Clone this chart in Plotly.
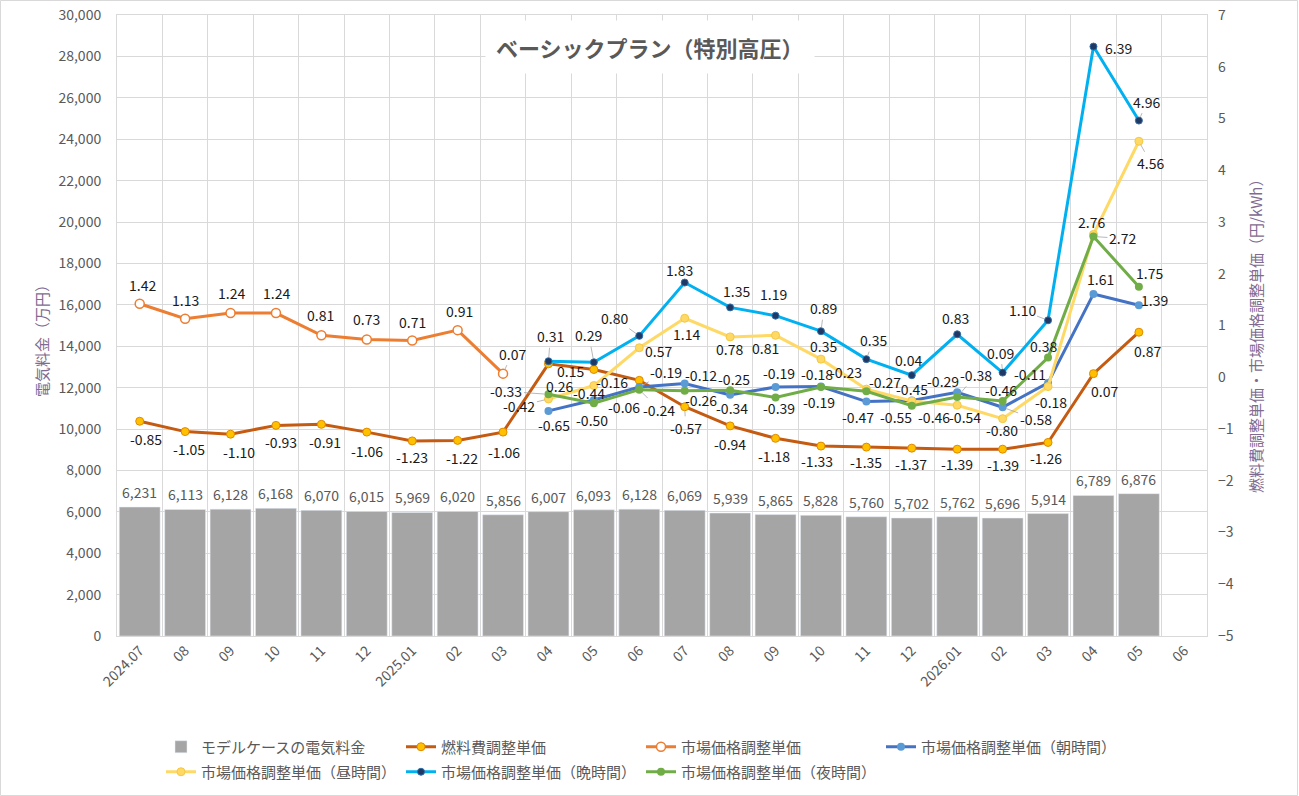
import plotly.graph_objects as go

# ---------------- data ----------------
months = ["2024.07", "08", "09", "10", "11", "12", "2025.01", "02", "03", "04", "05", "06",
          "07", "08", "09", "10", "11", "12", "2026.01", "02", "03", "04", "05", "06"]
bill = [6231, 6113, 6128, 6168, 6070, 6015, 5969, 6020, 5856, 6007, 6093, 6128,
        6069, 5939, 5865, 5828, 5760, 5702, 5762, 5696, 5914, 6789, 6876]
fuel = [-0.85, -1.05, -1.10, -0.93, -0.91, -1.06, -1.23, -1.22, -1.06, 0.26, 0.15, -0.06,
        -0.57, -0.94, -1.18, -1.33, -1.35, -1.37, -1.39, -1.39, -1.26, 0.07, 0.87]
market = [1.42, 1.13, 1.24, 1.24, 0.81, 0.73, 0.71, 0.91, 0.07]
tou_start = 9
morning = [-0.65, -0.44, -0.19, -0.12, -0.34, -0.19, -0.18, -0.47, -0.45, -0.29, -0.58, -0.11, 1.61, 1.39]
day = [-0.42, -0.16, 0.57, 1.14, 0.78, 0.81, 0.35, -0.23, -0.46, -0.54, -0.80, -0.18, 2.76, 4.56]
evening = [0.31, 0.29, 0.80, 1.83, 1.35, 1.19, 0.89, 0.35, 0.04, 0.83, 0.09, 1.10, 6.39, 4.96]
night = [-0.33, -0.50, -0.24, -0.26, -0.25, -0.39, -0.19, -0.27, -0.55, -0.38, -0.46, 0.38, 2.72, 1.75]

names = ["モデルケースの電気料金", "燃料費調整単価", "市場価格調整単価", "市場価格調整単価（朝時間）",
         "市場価格調整単価（昼時間）", "市場価格調整単価（晩時間）", "市場価格調整単価（夜時間）"]

# label offsets (screen px: dx right, dy down)
fuel_off = [(6, 18), (4, 17), (8, 18), (5, 17), (4, 18), (0, 19), (0, 16), (4, 18), (1, 20),
            (11, 22), (-23, 2), (-15, 27), (1, 21), (0, 18), (-2, 18), (-4, 15), (0, 15),
            (-1, 16), (0, 15), (0, 16), (-2, 16), (11, 17), (9, 19)]
market_off = [(3, -19), (0, -19), (1, -20), (1, -20), (-1, -20), (0, -20), (0, -19), (2, -19), (9, -20)]
morning_off = [(6, 14), (-5, -7), (27, -15), (16, -8), (2, 13), (3, -14), (-4, -13), (-8, 15),
               (0, -12), (-14, -11), (33, 12), (-18, -9), (7, -15), (16, -5)]
day_off = [(-29, 7), (18, -4), (19, 3), (2, 16), (-1, 12), (-10, 13), (3, -13), (-20, -17),
           (22, 16), (8, 12), (-1, 11), (3, 15), (-2, -12), (12, 22)]
evening_off = [(2, -25), (-5, -27), (-25, -18), (-5, -13), (6, -16), (-2, -22), (3, -23), (7, -19),
               (-3, -15), (-2, -16), (-2, -20), (-26, -10), (25, 1), (8, -19)]
night_off = [(-42, -3), (-2, 17), (20, 20), (16, 9), (4, -11), (3, 11), (-2, 15), (19, -9),
             (-16, 11), (19, -22), (-2, -11), (-5, -12), (29, 2), (11, -14)]

# labels that carry a thin leader line (index within each series)
fuel_lead = [12]
market_lead = [8]
morning_lead = [2, 10]
day_lead = [0, 13]
evening_lead = [0, 1, 2, 6, 7, 10, 11, 13]
night_lead = [0, 2, 9, 12]

FONT = "Noto Sans CJK JP"
GRAY = "#595959"
GRID = "#d9d9d9"

x_all = list(range(len(months)))
x_bill = list(range(len(bill)))
x_fuel = list(range(len(fuel)))
x_market = list(range(len(market)))
x_tou = list(range(tou_start, tou_start + len(morning)))

fig = go.Figure()
fig.add_trace(go.Bar(x=x_bill, y=bill, name=names[0], marker_color="#a5a5a5",
                     legend="legend"))
fig.add_trace(go.Scatter(x=x_fuel, y=fuel, name=names[1], yaxis="y2", mode="lines+markers",
                         line=dict(color="#c55a11", width=3),
                         marker=dict(size=8, color="#ffc000", line=dict(color="#e08a00", width=1)),
                         legend="legend"))
fig.add_trace(go.Scatter(x=x_market, y=market, name=names[2], yaxis="y2", mode="lines+markers",
                         line=dict(color="#ed7d31", width=3),
                         marker=dict(size=9, color="white", line=dict(color="#ed7d31", width=1.5)),
                         legend="legend"))
fig.add_trace(go.Scatter(x=x_tou, y=morning, name=names[3], yaxis="y2", mode="lines+markers",
                         line=dict(color="#4472c4", width=3),
                         marker=dict(size=8, color="#5b9bd5"),
                         legend="legend"))
fig.add_trace(go.Scatter(x=x_tou, y=day, name=names[4], yaxis="y2", mode="lines+markers",
                         line=dict(color="#ffd966", width=3),
                         marker=dict(size=8, color="#ffd966", line=dict(color="#f5c842", width=1)),
                         legend="legend2"))
fig.add_trace(go.Scatter(x=x_tou, y=evening, name=names[5], yaxis="y2", mode="lines+markers",
                         line=dict(color="#00b0f0", width=3),
                         marker=dict(size=7, color="#1f3864", line=dict(color="#2f6fa8", width=1)),
                         legend="legend2"))
fig.add_trace(go.Scatter(x=x_tou, y=night, name=names[6], yaxis="y2", mode="lines+markers",
                         line=dict(color="#70ad47", width=3),
                         marker=dict(size=8, color="#70ad47"),
                         legend="legend2"))

annotations = []
label_font = dict(family=FONT, size=14, color="#1a1a1a")
for i, b in zip(x_bill, bill):
    annotations.append(dict(x=i, y=b, xref="x", yref="y", text=f"{b:,}", showarrow=False,
                            yshift=15, font=dict(family=FONT, size=14, color=GRAY)))


def add_labels(xs, vals, offs, leads):
    for k, (xi, v, (dx, dy)) in enumerate(zip(xs, vals, offs)):
        if k in leads:
            annotations.append(dict(x=xi, y=v, xref="x", yref="y2", text=f"{v:.2f}",
                                    showarrow=True, ax=dx, ay=dy, arrowhead=0, arrowwidth=0.8,
                                    arrowcolor="#a6a6a6", standoff=4, font=label_font))
        else:
            annotations.append(dict(x=xi, y=v, xref="x", yref="y2", text=f"{v:.2f}",
                                    showarrow=False, xshift=dx, yshift=-dy, font=label_font))


add_labels(x_fuel, fuel, fuel_off, fuel_lead)
add_labels(x_market, market, market_off, market_lead)
add_labels(x_tou, morning, morning_off, morning_lead)
add_labels(x_tou, day, day_off, day_lead)
add_labels(x_tou, evening, evening_off, evening_lead)
add_labels(x_tou, night, night_off, night_lead)

# plot area geometry (px) used for paper-coordinate placement of chrome
L, R, T, B = 117, 1207, 15, 636
PW, PH = R - L, B - T


def px(xp):
    return (xp - L) / PW


def py(yp):
    return (B - yp) / PH


# chart title
annotations.append(dict(x=px(650), y=py(46.5), xref="paper", yref="paper",
                        text="<b>ベーシックプラン（特別高圧）</b>", showarrow=False,
                        font=dict(family=FONT, size=22, color=GRAY),
                        bgcolor="white", borderpad=10, xanchor="center", yanchor="middle"))
# axis titles
annotations.append(dict(x=px(41), y=py(337), xref="paper", yref="paper",
                        text="電気料金（万円）", textangle=-90, showarrow=False,
                        font=dict(family=FONT, size=15, color="#7f6a91"),
                        xanchor="center", yanchor="middle"))
annotations.append(dict(x=px(1255), y=py(333), xref="paper", yref="paper",
                        text="燃料費調整単価・市場価格調整単価（円/kWh）", textangle=-90, showarrow=False,
                        font=dict(family=FONT, size=15, color="#7f6a91"),
                        xanchor="center", yanchor="middle"))

shapes = [dict(type="rect", xref="paper", yref="paper",
               x0=px(0.5), x1=px(1297.5), y0=py(795.5), y1=py(0.5),
               line=dict(color=GRID, width=1), fillcolor="rgba(0,0,0,0)", layer="below")]

legend_common = dict(orientation="h", font=dict(family=FONT, size=15, color=GRAY),
                     entrywidth=195, entrywidthmode="pixels", bgcolor="rgba(0,0,0,0)",
                     xanchor="left", yanchor="middle", itemwidth=30, traceorder="normal")

fig.update_layout(
    width=1299, height=796,
    margin=dict(l=L, r=1299 - R, t=T, b=796 - B, autoexpand=False),
    paper_bgcolor="white", plot_bgcolor="white",
    font=dict(family=FONT, size=14, color=GRAY),
    bargap=0.1,
    showlegend=True,
    legend=dict(x=px(161), y=py(747), **legend_common),
    legend2=dict(x=px(161), y=py(772), **legend_common),
    xaxis=dict(range=[-0.5, len(months) - 0.5], tickmode="array", tickvals=x_all, ticktext=months,
               tickangle=-45, showgrid=False, ticks="", zeroline=False,
               tickfont=dict(family=FONT, size=14, color=GRAY),
               showline=True, mirror=True, linecolor=GRID, linewidth=1,
               minor=dict(tickmode="linear", tick0=-0.5, dtick=1, showgrid=True,
                          gridcolor=GRID, gridwidth=1, ticks="")),
    yaxis=dict(range=[0, 30000], dtick=2000, tickformat=",", showgrid=True, gridcolor=GRID,
               zeroline=False, ticks="", showline=True, mirror=True, linecolor=GRID,
               tickfont=dict(family=FONT, size=14, color=GRAY), ticklabelstandoff=12),
    yaxis2=dict(range=[-5, 7], dtick=1, overlaying="y", side="right", showgrid=False,
                zeroline=False, ticks="", showline=False,
                tickfont=dict(family=FONT, size=14, color=GRAY), ticklabelstandoff=10),
    annotations=annotations,
    shapes=shapes,
)

fig.write_html("out.html")
